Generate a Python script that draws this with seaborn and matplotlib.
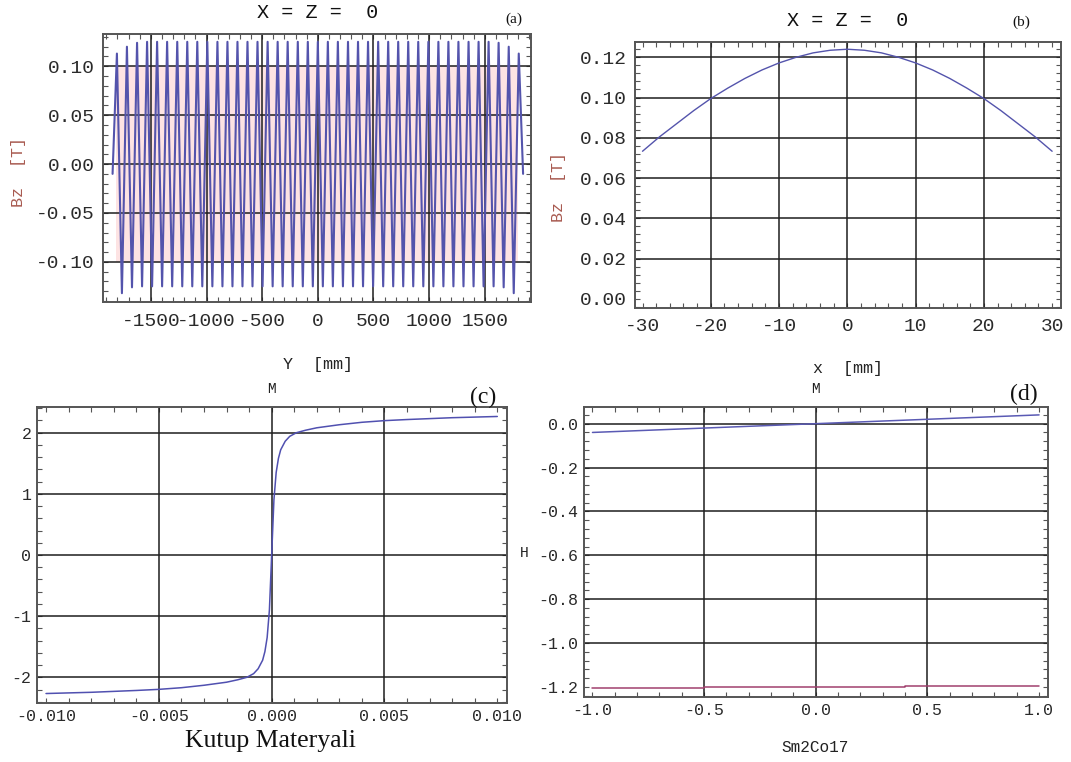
import numpy as np
import pandas as pd
import matplotlib
matplotlib.use("Agg")
import matplotlib.pyplot as plt
import seaborn as sns
from matplotlib.ticker import FixedLocator, MultipleLocator, FuncFormatter

# ---------------- data ----------------
# (a) Bz along the undulator axis: crest positions [mm] and crest / trough values [T]
crest_y = [-1805, -1715, -1624, -1534, -1444, -1354, -1263, -1173, -1083, -993,
           -902, -812, -722, -632, -542, -451, -361, -271, -180, -90,
           0, 90, 180, 271, 361, 451, 542, 632, 722, 812,
           902, 993, 1083, 1173, 1263, 1354, 1444, 1534, 1624, 1715, 1805]
crest_bz = [0.113, 0.120, 0.124, 0.125, 0.125, 0.125, 0.125, 0.125, 0.125, 0.125,
            0.125, 0.125, 0.125, 0.125, 0.125, 0.125, 0.125, 0.125, 0.125, 0.125,
            0.125, 0.125, 0.125, 0.125, 0.125, 0.125, 0.125, 0.125, 0.125, 0.125,
            0.125, 0.125, 0.125, 0.125, 0.125, 0.125, 0.125, 0.125, 0.124, 0.120, 0.113]
trough_bz = [-0.132, -0.126, -0.125, -0.125, -0.125, -0.125, -0.125, -0.125, -0.125, -0.125,
             -0.125, -0.125, -0.125, -0.125, -0.125, -0.125, -0.125, -0.125, -0.125, -0.125,
             -0.125, -0.125, -0.125, -0.125, -0.125, -0.125, -0.125, -0.125, -0.125, -0.125,
             -0.125, -0.125, -0.125, -0.125, -0.125, -0.125, -0.125, -0.125, -0.126, -0.132]
ends_y = [-1844, 1844]
ends_bz = [-0.010, -0.010]
band_y = [-1815, 1800]
band_bz = [-0.10, 0.10]

# (b) transverse profile of Bz
bx = [-30, -27.5, -25, -22.5, -20, -17.5, -15, -12.5, -10, -7.5, -5, -2.5, 0,
      2.5, 5, 7.5, 10, 12.5, 15, 17.5, 20, 22.5, 25, 27.5, 30]
bz = [0.0733, 0.0805, 0.0870, 0.0935, 0.0995, 0.1047, 0.1095, 0.1137, 0.1172, 0.1200,
      0.1222, 0.1235, 0.1240, 0.1235, 0.1222, 0.1200, 0.1172, 0.1137, 0.1095, 0.1047,
      0.0995, 0.0935, 0.0870, 0.0805, 0.0733]

# (c) magnetisation curve of the pole material
c_h = [-0.0100, -0.0080, -0.0060, -0.0050, -0.0040, -0.0030, -0.0020, -0.0015, -0.0011,
       -0.0008, -0.0006, -0.0004, -0.0003, -0.0002, -0.0001, -0.00005, 0.0,
       0.00005, 0.0001, 0.0002, 0.0003, 0.0004, 0.0006, 0.0008, 0.0011,
       0.0015, 0.0020, 0.0030, 0.0040, 0.0050, 0.0060, 0.0080, 0.0100]
c_m = [-2.265, -2.245, -2.215, -2.197, -2.170, -2.130, -2.080, -2.040, -2.000,
       -1.940, -1.860, -1.720, -1.580, -1.350, -0.900, -0.450, 0.0,
       0.450, 0.900, 1.350, 1.580, 1.720, 1.860, 1.940, 2.000,
       2.040, 2.080, 2.130, 2.170, 2.197, 2.215, 2.245, 2.265]

# (d) Sm2Co17 permanent magnet
d_h = [-1.0, -0.5, 0.0, 0.5, 1.0]
d_m = [-0.040, -0.020, 0.000, 0.020, 0.040]
d_h2 = [-1.0, -0.5, 0.4, 1.0]
d_m2 = [-1.205, -1.200, -1.195, -1.195]

# ---------------- figure ----------------
sns.set_theme(style="white")
plt.rcParams["font.family"] = ["Liberation Mono", "DejaVu Sans Mono"]

W, H = 1071, 762
fig = plt.figure(figsize=(W / 100, H / 100), dpi=100)
fig.patch.set_facecolor("white")


def px_axes(l, t, r, b):
    return fig.add_axes([l / W, 1 - b / H, (r - l) / W, (b - t) / H])


def px_text(x, y, s, **kw):
    fig.text(x / W, 1 - y / H, s, ha=kw.pop("ha", "center"), va=kw.pop("va", "center"), **kw)


def style(ax, xt, xminor, yt, yminor, gx, gy, xfmt, yfmt, fs, padx, pady):
    ax.set_facecolor("white")
    ax.xaxis.set_major_locator(FixedLocator(xt))
    ax.yaxis.set_major_locator(FixedLocator(yt))
    ax.xaxis.set_minor_locator(MultipleLocator(xminor))
    ax.yaxis.set_minor_locator(MultipleLocator(yminor))
    ax.xaxis.set_major_formatter(FuncFormatter(xfmt))
    ax.yaxis.set_major_formatter(FuncFormatter(yfmt))
    ax.grid(False)
    for v in gx:
        ax.axvline(v, color="#1e1e1e", lw=1.1, zorder=1)
    for v in gy:
        ax.axhline(v, color="#1e1e1e", lw=1.1, zorder=1)
    ax.tick_params(which="both", direction="in", top=True, right=True,
                   bottom=True, left=True)
    ax.tick_params(which="major", length=3.5, width=0.8, color="#555555",
                   labelsize=fs, labelcolor="#2a2a2a")
    ax.tick_params(axis="x", which="major", pad=padx)
    ax.tick_params(axis="y", which="major", pad=pady)
    ax.tick_params(which="minor", length=3.5, width=0.8, color="#555555")
    for s in ax.spines.values():
        s.set_color("#555555")
        s.set_linewidth(1.4)
    ax.set_xlabel("")
    ax.set_ylabel("")


# ---- (a) ----
trough_y = [(a + b) / 2 for a, b in zip(crest_y[:-1], crest_y[1:])]
trace_y, trace_bz = [ends_y[0]], [ends_bz[0]]
for i in range(len(crest_y)):
    trace_y.append(crest_y[i])
    trace_bz.append(crest_bz[i])
    if i < len(trough_y):
        trace_y.append(trough_y[i])
        trace_bz.append(trough_bz[i])
trace_y.append(ends_y[1])
trace_bz.append(ends_bz[1])
df_a = pd.DataFrame({"Y": trace_y, "Bz": trace_bz})

ax_a = px_axes(103, 34, 531, 302)
ax_a.fill_between(band_y, band_bz[0], band_bz[1], color="#fde3e3", lw=0, zorder=0.2)
sns.lineplot(data=df_a, x="Y", y="Bz", ax=ax_a, color="#5454ac", lw=1.5,
             estimator=None, sort=False, zorder=3)
ax_a.set_xlim(-1930, 1915)
ax_a.set_ylim(-0.141, 0.133)
a_xt = [-1500, -1000, -500, 0, 500, 1000, 1500]
a_yt = [-0.10, -0.05, 0.0, 0.05, 0.10]
style(ax_a, a_xt, 100, a_yt, 0.01, a_xt, a_yt,
      lambda v, p: f"{v:.0f}", lambda v, p: f"{v:.2f}", 14, 8, 6)
px_text(318, 12, "X = Z =  0", fontsize=14.5, color="#111111")
px_text(514, 19, "(a)", fontsize=11, family="Liberation Serif", color="#111111")
px_text(18, 172, "Bz  [T]", fontsize=12, rotation=90, color="#a85a50")
px_text(318, 365, "Y  [mm]", fontsize=12, color="#222222")

# ---- (b) ----
df_b = pd.DataFrame({"x": bx, "Bz": bz})
ax_b = px_axes(635, 42, 1061, 308)
sns.lineplot(data=df_b, x="x", y="Bz", ax=ax_b, color="#5454ac", lw=1.0,
             estimator=None, sort=False, zorder=3)
ax_b.set_xlim(-31.1, 31.3)
ax_b.set_ylim(-0.0046, 0.1276)
b_xt = [-30, -20, -10, 0, 10, 20, 30]
b_yt = [0.0, 0.02, 0.04, 0.06, 0.08, 0.10, 0.12]
style(ax_b, b_xt, 2, b_yt, 0.004, b_xt[1:-1], b_yt[1:],
      lambda v, p: f"{v:.0f}", lambda v, p: f"{v:.2f}", 14, 7, 6)
px_text(848, 20, "X = Z =  0", fontsize=14.5, color="#111111")
px_text(1021, 22, "(b)", fontsize=11, family="Liberation Serif", color="#111111")
px_text(558, 187, "Bz  [T]", fontsize=12, rotation=90, color="#a85a50")
px_text(848, 368, "x  [mm]", fontsize=12, color="#222222")

# ---- (c) ----
df_c = pd.DataFrame({"H": c_h, "M": c_m})
ax_c = px_axes(37, 407, 507, 703)
sns.lineplot(data=df_c, x="H", y="M", ax=ax_c, color="#5050b0", lw=1.1,
             estimator=None, sort=False, zorder=3)
ax_c.set_xlim(-0.0104, 0.01043)
ax_c.set_ylim(-2.42, 2.42)
c_xt = [-0.010, -0.005, 0.0, 0.005, 0.010]
c_yt = [-2, -1, 0, 1, 2]
style(ax_c, c_xt, 0.001, c_yt, 0.2, c_xt[1:-1], c_yt,
      lambda v, p: f"{v:.3f}", lambda v, p: f"{v:.0f}", 12, 4, 4)
px_text(272, 389, "M", fontsize=10.5, color="#222222")
px_text(483, 397, "(c)", fontsize=17, family="Liberation Serif", color="#111111")
px_text(270, 741, "Kutup Materyali", fontsize=18.5, family="Liberation Serif",
        color="#111111")

# ---- (d) ----
df_d = pd.DataFrame({"H": d_h, "M": d_m})
df_d2 = pd.DataFrame({"H": d_h2, "M": d_m2})
ax_d = px_axes(584, 407, 1048, 697)
sns.lineplot(data=df_d, x="H", y="M", ax=ax_d, color="#5a5ab4", lw=1.1,
             estimator=None, sort=False, zorder=3)
sns.lineplot(data=df_d2, x="H", y="M", ax=ax_d, color="#a0406e", lw=1.1,
             estimator=None, sort=False, drawstyle="steps-post", zorder=3)
ax_d.set_xlim(-1.038, 1.04)
ax_d.set_ylim(-1.246, 0.076)
d_xt = [-1.0, -0.5, 0.0, 0.5, 1.0]
d_yt = [-1.2, -1.0, -0.8, -0.6, -0.4, -0.2, 0.0]
style(ax_d, d_xt, 0.1, d_yt, 0.04, d_xt[1:-1], d_yt[1:],
      lambda v, p: f"{v:.1f}", lambda v, p: f"{v:.1f}", 12, 4, 4)
px_text(815, 389, "M", fontsize=10.5, color="#222222")
px_text(1024, 394, "(d)", fontsize=17, family="Liberation Serif", color="#111111")
px_text(815, 747, "Sm2Co17", fontsize=11.5, color="#222222")
px_text(524, 553, "H", fontsize=10.5, color="#222222")

fig.savefig("out.png", dpi=100, facecolor="white")
